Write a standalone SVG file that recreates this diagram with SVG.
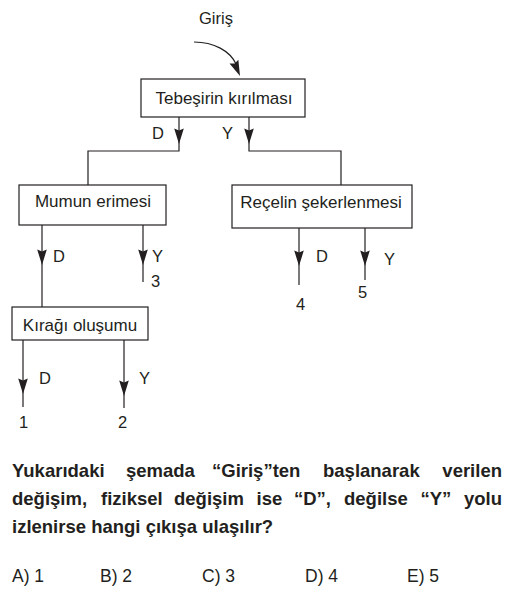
<svg xmlns="http://www.w3.org/2000/svg" width="514" height="600" viewBox="0 0 514 600">
  <defs>
    <path id="ah" d="M0,0 L-4.8,-15.5 L0,-13.5 L4.8,-15.5 Z"/>
    <style>
      .box { fill: #ffffff; stroke: #231f20; stroke-width: 1.2; }
      .ln { fill: none; stroke: #231f20; stroke-width: 1.2; }
      .head { fill: #231f20; }
      .t { font-family: "Liberation Sans", Arial, sans-serif; font-size: 17px; fill: #231f20; }
      .lbl { font-family: "Liberation Sans", Arial, sans-serif; font-size: 16.5px; fill: #231f20; }
      .q { font-family: "Liberation Sans", Arial, sans-serif; font-size: 18.5px; font-weight: bold; fill: #231f20; }
      .a { font-family: "Liberation Sans", Arial, sans-serif; font-size: 17.5px; fill: #231f20; }
    </style>
  </defs>
  <rect x="0" y="0" width="514" height="600" fill="#ffffff"/>

  <g id="connectors">
    <path class="ln" d="M194,42 C214,42 230,51 236,64"/>
    <use href="#ah" class="head" transform="translate(240,76) rotate(-23)"/>

    <path class="ln" d="M179,117 V151 H88 V185"/>
    <path class="ln" d="M249,117 V151 H341 V185"/>
    <use href="#ah" class="head" x="179" y="144"/>
    <use href="#ah" class="head" x="249" y="144"/>

    <path class="ln" d="M42,225 V307"/>
    <path class="ln" d="M143,225 V282"/>
    <use href="#ah" class="head" x="42" y="265"/>
    <use href="#ah" class="head" x="143" y="265"/>

    <path class="ln" d="M299,228 V285"/>
    <path class="ln" d="M365,228 V280"/>
    <use href="#ah" class="head" x="299" y="266"/>
    <use href="#ah" class="head" x="365" y="266"/>

    <path class="ln" d="M23,340 V407"/>
    <path class="ln" d="M124,340 V408"/>
    <use href="#ah" class="head" x="23" y="394"/>
    <use href="#ah" class="head" x="124" y="396"/>
  </g>

  <g id="labels">
    <text class="lbl" x="199" y="24">Giriş</text>
    <text class="lbl" x="152" y="139">D</text>
    <text class="lbl" x="222" y="139">Y</text>
    <text class="lbl" x="53" y="262">D</text>
    <text class="lbl" x="152" y="262">Y</text>
    <text class="lbl" x="151" y="287">3</text>
    <text class="lbl" x="316" y="262">D</text>
    <text class="lbl" x="384" y="265">Y</text>
    <text class="lbl" x="296" y="310">4</text>
    <text class="lbl" x="358" y="298">5</text>
    <text class="lbl" x="39" y="384">D</text>
    <text class="lbl" x="139" y="384">Y</text>
    <text class="lbl" x="19" y="428">1</text>
    <text class="lbl" x="118" y="428">2</text>
  </g>

  <g id="node-tebesir">
    <rect class="box" x="141" y="79" width="164" height="38"/>
    <text class="t" x="224" y="104" text-anchor="middle">Tebeşirin kırılması</text>
  </g>
  <g id="node-mumun">
    <rect class="box" x="19" y="185" width="147" height="40"/>
    <text class="t" x="93" y="207" text-anchor="middle">Mumun erimesi</text>
  </g>
  <g id="node-recel">
    <rect class="box" x="232" y="185" width="180" height="43"/>
    <text class="t" x="321" y="208" text-anchor="middle">Reçelin şekerlenmesi</text>
  </g>
  <g id="node-kiragi">
    <rect class="box" x="12" y="307" width="136" height="33"/>
    <text class="t" x="80" y="331" text-anchor="middle">Kırağı oluşumu</text>
  </g>

  <g id="question">
    <text class="q" y="477"><tspan x="12">Yukarıdaki</tspan><tspan x="126">şemada</tspan><tspan x="212">“Giriş”ten</tspan><tspan x="323">başlanarak</tspan></text>
    <text class="q" x="502" y="477" text-anchor="end">verilen</text>
    <text class="q" y="505"><tspan x="12">değişim,</tspan><tspan x="101">fiziksel</tspan><tspan x="174">değişim</tspan><tspan x="256.5">ise</tspan><tspan x="294">“D”,</tspan><tspan x="344">değilse</tspan><tspan x="420.5">“Y”</tspan></text>
    <text class="q" x="502" y="505" text-anchor="end">yolu</text>
    <text class="q" x="12" y="533">izlenirse hangi çıkışa ulaşılır?</text>
  </g>

  <g id="answers">
    <text class="a" x="12" y="582">A) 1</text>
    <text class="a" x="100" y="582">B) 2</text>
    <text class="a" x="202" y="582">C) 3</text>
    <text class="a" x="305" y="582">D) 4</text>
    <text class="a" x="407" y="582">E) 5</text>
  </g>
</svg>
